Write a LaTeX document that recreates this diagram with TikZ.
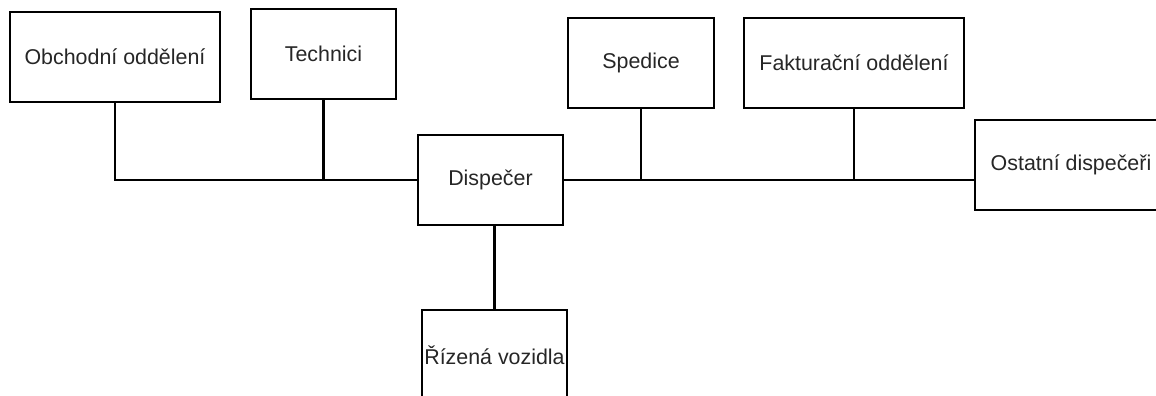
\documentclass[tikz,border=0pt]{standalone}
\usepackage{fontspec}
\setmainfont{Liberation Sans}
\usepackage{tikz}

\begin{document}
\begin{tikzpicture}[x=0.5pt,y=-0.5pt,
  dept node/.style={rectangle,draw,line width=0.55pt,inner sep=0pt,
    minimum height=45pt,text=black!85,font=\fontsize{10.7}{12}\selectfont},
  link/.style={line width=1.2pt}]

  \clip (0,0) rectangle (1156,396);

  \node[dept node,minimum width=105pt] (1) at (115,57) {Obchodní oddělení};
  \node[dept node,minimum width=72.5pt] (2) at (323.5,54) {Technici};
  \node[dept node,minimum width=72.5pt] (3) at (490.5,180) {Dispečer};
  \node[dept node,minimum width=73pt] (4) at (641,63) {Spedice};
  \node[dept node,minimum width=110pt] (5) at (854,63) {Fakturační oddělení};
  \node[dept node,minimum width=96pt] (6) at (1071,165) {Ostatní dispečeři};
  \node[dept node,minimum width=72.5pt] (7) at (494.5,355) {Řízená vozidla};

  \draw[link] (1.south) |- (3.west);
  \draw[link] (2.south) -- (2.south |- 3.west);
  \draw[link] (4.south) |- (3.east);
  \draw[link] (5.south) |- (3.east);
  \draw[line width=0.9pt] (3.east) -- (3.east -| 6.west);
  \draw[link] (7.north) -- (7.north |- 3.south);
\end{tikzpicture}
\end{document}
